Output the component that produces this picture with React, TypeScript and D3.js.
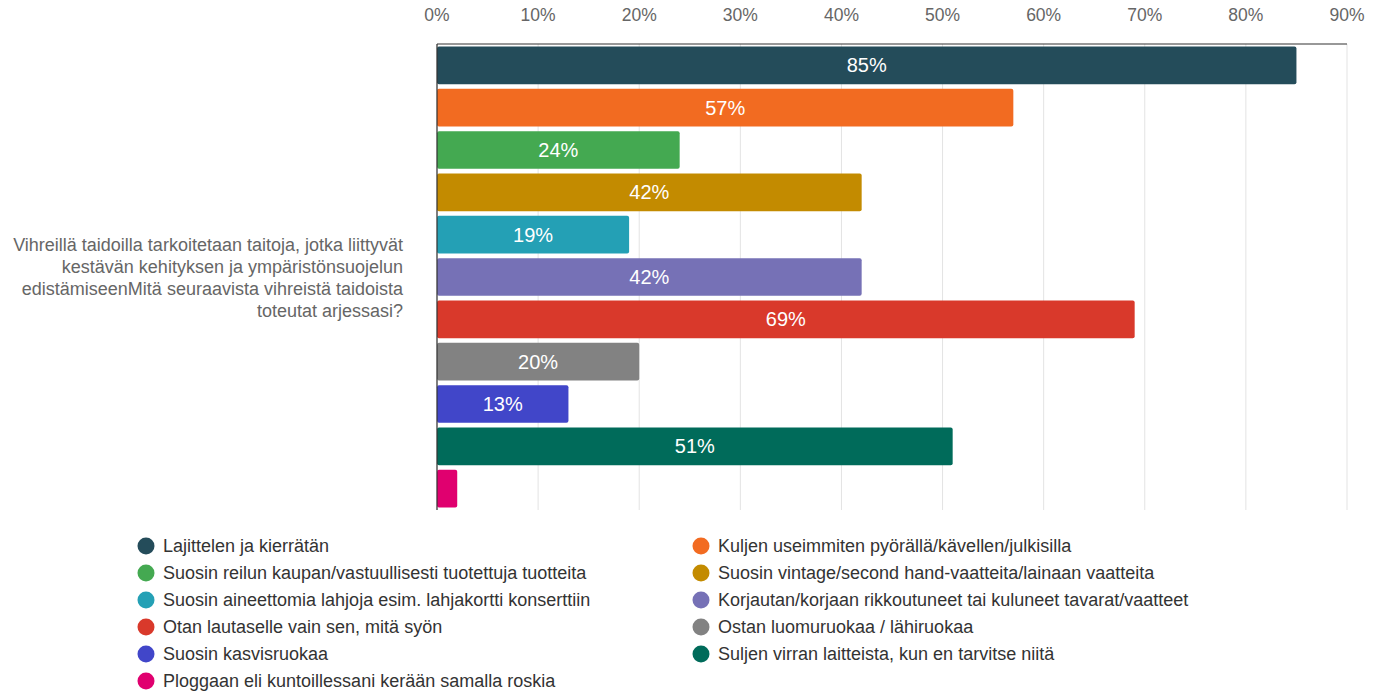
import React from "react";
import * as d3 from "d3";

const categories = [
  "Lajittelen ja kierrätän",
  "Kuljen useimmiten pyörällä/kävellen/julkisilla",
  "Suosin reilun kaupan/vastuullisesti tuotettuja tuotteita",
  "Suosin vintage/second hand-vaatteita/lainaan vaatteita",
  "Suosin aineettomia lahjoja esim. lahjakortti konserttiin",
  "Korjautan/korjaan rikkoutuneet tai kuluneet tavarat/vaatteet",
  "Otan lautaselle vain sen, mitä syön",
  "Ostan luomuruokaa / lähiruokaa",
  "Suosin kasvisruokaa",
  "Suljen virran laitteista, kun en tarvitse niitä",
  "Ploggaan eli kuntoillessani kerään samalla roskia",
];
const values = [85, 57, 24, 42, 19, 42, 69, 20, 13, 51, 2];
const colors = [
  "#244c5a", "#f26b21", "#44a951", "#c38b00", "#24a0b5", "#7671b6",
  "#d9392b", "#828282", "#4146c9", "#006b5a", "#e0006f",
];
const ticks = [0, 10, 20, 30, 40, 50, 60, 70, 80, 90];
const questionLines = [
  "Vihreillä taidoilla tarkoitetaan taitoja, jotka liittyvät",
  "kestävän kehityksen ja ympäristönsuojelun",
  "edistämiseenMitä seuraavista vihreistä taidoista",
  "toteutat arjessasi?",
];

export default function App() {
  const W = 1381, H = 695;
  const left = 437, right = 1347, top = 44, bottom = 510;
  const x = d3.scaleLinear().domain([0, 90]).range([left, right]);
  const y = d3.scaleBand<number>().domain(d3.range(values.length)).range([top, bottom]).paddingInner(0.11).paddingOuter(0.06);
  const font = "'Liberation Sans', Arial, sans-serif";
  return (
    <svg width={W} height={H} style={{ position: "absolute", left: 0, top: 0 }} fontFamily={font}>
      <rect width={W} height={H} fill="#fff" />
      {ticks.map((t) => (
        <g key={t}>
          <line x1={x(t)} x2={x(t)} y1={top} y2={bottom} stroke="#e3e3e3" strokeWidth={1} />
          <text x={x(t)} y={21} textAnchor="middle" fontSize={17.5} fill="#666">{t}%</text>
        </g>
      ))}
      {values.map((v, i) => {
        const y0 = y(i)!;
        const bw = y.bandwidth();
        const w = x(v) - x(0);
        return (
          <g key={i}>
            <rect x={x(0)} y={y0} width={w} height={bw} rx={2} fill={colors[i]} />
            {w > 40 && (
              <text x={x(0) + w / 2} y={y0 + bw / 2 + 7} textAnchor="middle" fontSize={20} fill="#fff">{v}%</text>
            )}
          </g>
        );
      })}
      <line x1={left} x2={right} y1={top} y2={top} stroke="#333" strokeWidth={1.2} />
      <line x1={left} x2={left} y1={top} y2={bottom} stroke="#333" strokeWidth={1.2} />
      {questionLines.map((l, i) => (
        <text key={i} x={403} y={250.5 + i * 22} textAnchor="end" fontSize={18} fill="#666">{l}</text>
      ))}
      {categories.map((c, i) => {
        const col = i % 2;
        const row = Math.floor(i / 2);
        const cx = col === 0 ? 146 : 701;
        const cy = 546 + row * 27;
        return (
          <g key={i}>
            <circle cx={cx} cy={cy} r={8.5} fill={colors[i]} />
            <text x={cx + 17} y={cy + 6.3} fontSize={18} fill="#333">{c}</text>
          </g>
        );
      })}
    </svg>
  );
}
